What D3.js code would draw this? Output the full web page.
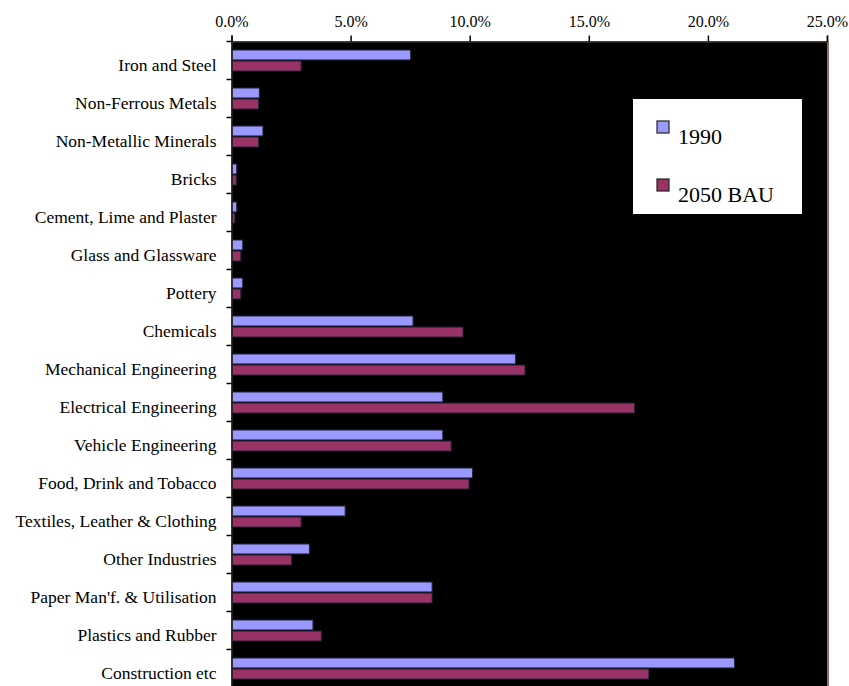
<!DOCTYPE html>
<html>
<head>
<meta charset="utf-8">
<script src="https://cdn.jsdelivr.net/npm/d3@7"></script>
<style>
    body { margin: 0; background: #fff; }
    text { font-family: "Liberation Serif", "Times New Roman", serif; fill: #000; }
</style>
</head>
<body>
<div id="chart"></div>
<script>
// Categories, top to bottom
const categories = [
    "Iron and Steel", "Non-Ferrous Metals", "Non-Metallic Minerals", "Bricks",
    "Cement, Lime and Plaster", "Glass and Glassware", "Pottery", "Chemicals",
    "Mechanical Engineering", "Electrical Engineering", "Vehicle Engineering",
    "Food, Drink and Tobacco", "Textiles, Leather & Clothing", "Other Industries",
    "Paper Man'f. & Utilisation", "Plastics and Rubber", "Construction etc"
];

// Share of energy use (%)
const values1990 = [7.5, 1.15, 1.3, 0.2, 0.2, 0.45, 0.45, 7.6, 11.9, 8.85, 8.85, 10.1, 4.75, 3.25, 8.4, 3.4, 21.1];
const values2050 = [2.9, 1.12, 1.12, 0.18, 0.12, 0.37, 0.37, 9.7, 12.3, 16.9, 9.2, 9.95, 2.9, 2.5, 8.4, 3.75, 17.5];

const seriesNames = ["1990", "2050 BAU"];
const xTicks = [0, 5, 10, 15, 20, 25];

const data = categories.map((c, i) => ({ cat: c, vals: [values1990[i], values2050[i]] }));
const colors = ["#9999ff", "#993366"];

// Dimensions
const margin = { top: 41.5, right: 22, bottom: 0, left: 231.5 },
    width = 849 - margin.left - margin.right,
    height = 646;

const svg = d3.select("#chart")
    .append("svg")
    .attr("width", 849)
    .attr("height", 686)
    .append("g")
    .attr("transform", `translate(${margin.left},${margin.top})`);

// X Scale
const x = d3.scaleLinear()
    .domain([0, 25])
    .range([0, width]);

// Y Scale (categories)
const y = d3.scaleBand()
    .domain(categories)
    .range([0, height]);

// Inner scale for the two series
const y1 = d3.scaleBand()
    .domain(seriesNames)
    .range([8.5, 29.5])
    .paddingInner(0.1);

// Plot background
svg.append("rect")
    .attr("x", 0)
    .attr("y", 0)
    .attr("width", width)
    .attr("height", height + 2)
    .attr("fill", "#000");

// Right border
svg.append("line")
    .attr("x1", width + 1).attr("x2", width + 1)
    .attr("y1", 0).attr("y2", height + 2)
    .attr("stroke", "#8a7068")
    .attr("stroke-width", 2);

// Bars
const groups = svg.selectAll(".group")
    .data(data)
    .enter().append("g")
    .attr("class", "group")
    .attr("transform", d => `translate(0,${y(d.cat)})`);

groups.selectAll("rect")
    .data(d => d.vals.map((v, j) => ({ key: seriesNames[j], v: v, j: j })))
    .enter().append("rect")
    .attr("x", x(0) + 0.5)
    .attr("y", d => y1(d.key))
    .attr("width", d => x(d.v))
    .attr("height", y1.bandwidth())
    .attr("fill", d => colors[d.j])
    .attr("stroke", "#22223a")
    .attr("stroke-width", 1);

// X Axis (top)
const xAxis = svg.append("g")
    .attr("class", "x axis")
    .call(d3.axisTop(x).tickValues(xTicks).tickSize(6).tickPadding(9).tickFormat(d => d.toFixed(1) + "%"))
    .attr("font-family", "Liberation Serif")
    .attr("font-size", 16);
xAxis.select(".domain").attr("stroke", "#3a2c26").attr("stroke-width", 1.5);
xAxis.selectAll(".tick line").attr("stroke", "#000").attr("stroke-width", 1.5);
xAxis.selectAll("text")
    .style("font-size", "16px");

// Y Axis (left)
const yAxis = svg.append("g")
    .attr("class", "y axis")
    .call(d3.axisLeft(y).tickSize(0).tickPadding(15))
    .attr("font-family", "Liberation Serif")
    .attr("font-size", 17.5);
yAxis.select(".domain").attr("stroke", "#2a1e1a").attr("stroke-width", 1.5);
yAxis.selectAll("text")
    .attr("dy", "0.62em")
    .style("font-size", "17.5px");

// Category separator ticks
svg.append("g")
    .selectAll("line")
    .data(categories)
    .enter().append("line")
    .attr("x1", -5).attr("x2", 0)
    .attr("y1", d => y(d)).attr("y2", d => y(d))
    .attr("stroke", "#000")
    .attr("stroke-width", 1.5);

// Legend
const legend = svg.append("g")
    .attr("transform", `translate(${633 - margin.left},${99 - margin.top})`);

legend.append("rect")
    .attr("width", 169)
    .attr("height", 115)
    .attr("fill", "#fff");

seriesNames.forEach((s, i) => {
    const row = legend.append("g")
        .attr("transform", `translate(24,${22 + i * 58})`);
    row.append("rect")
        .attr("width", 12)
        .attr("height", 12)
        .attr("fill", colors[i])
        .attr("stroke", "#222")
        .attr("stroke-width", 1.2);
    row.append("text")
        .attr("x", 21)
        .attr("y", 23)
        .style("font-size", "22px")
        .text(s);
});
</script>
</body>
</html>
